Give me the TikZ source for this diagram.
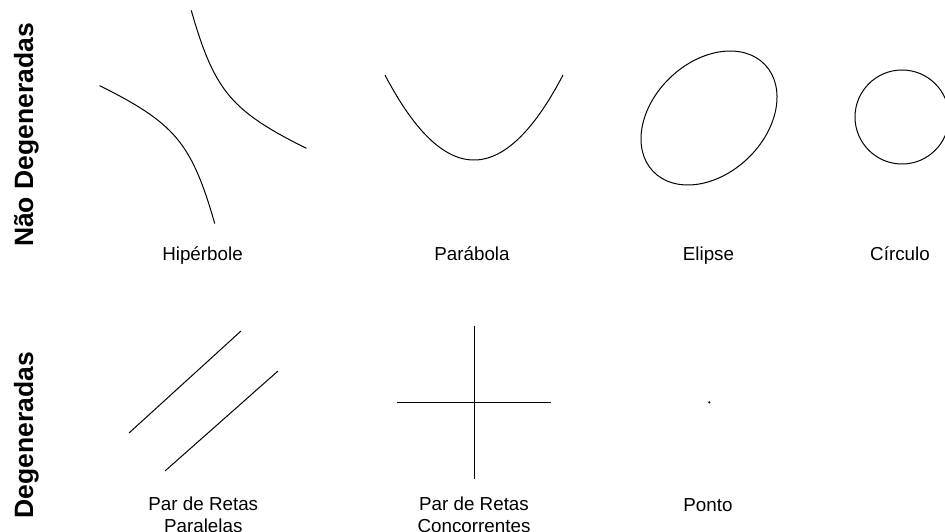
\documentclass[tikz,border=0pt]{standalone}
\usepackage{fontspec}
\setmainfont{Liberation Sans}
\begin{document}
\begin{tikzpicture}[x=1pt,y=1pt,
  curve/.style={line width=1pt, black},
  lbl/.style={font=\fontsize{18.8}{21.6}\selectfont, inner sep=0pt, align=center},
  sidelbl/.style={font=\fontsize{26.5}{30}\selectfont\bfseries, inner sep=0pt, rotate=90, anchor=base}]
\useasboundingbox (0,0) rectangle (945,531);
% side titles
\node[sidelbl] (nd) at (33,396) {Não Degeneradas};
\node[sidelbl] (dgt) at (33,96) {Degeneradas};
% hyperbola
\draw[curve] plot[domain=0.325:3.3, samples=90, variable=\t] ({203 + 32*\t - 7.2/\t}, {414 - 12.8*\t + 36/\t});
\draw[curve] plot[domain=0.325:3.3, samples=90, variable=\t] ({203 - 32*\t + 7.2/\t}, {414 + 12.8*\t - 36/\t});
% parabola
\draw[curve] plot[domain=-89:89, samples=90, variable=\x] ({474+\x}, {371 + 0.01073*\x*\x});
% ellipse
\draw[curve, rotate around={43.6:(709,413)}] (709,413) ellipse [x radius=77.3pt, y radius=56pt];
% circle
\draw[curve] (902,414) circle [radius=47pt];
% labels row 1
\node[lbl, anchor=base] (hip) at (202.5,270) {Hipérbole};
\node[lbl, anchor=base] (par) at (472,270) {Parábola};
\node[lbl, anchor=base] (eli) at (708.5,270) {Elipse};
\node[lbl, anchor=base] (cir) at (900,270) {Círculo};
% parallel lines
\coordinate (p1a) at (129,98); \coordinate (p1b) at (241,200);
\coordinate (p2a) at (165,60); \coordinate (p2b) at (278,160);
\draw[curve] (p1a) -- (p1b);
\draw[curve] (p2a) -- (p2b);
% crossing lines
\coordinate (vt) at (474.3,205); \coordinate (vb) at (474.3,52);
\coordinate (hl) at (397,128.7); \coordinate (hr) at (551,128.7);
\draw[curve] (vt) -- (vb);
\draw[curve] (hl) -- (hr);
% point
\fill (709.3,128.7) circle [radius=1.2pt];
% labels row 2
\node[lbl, anchor=north] (ppar) at (203.3,34) {Par de Retas\\Paralelas};
\node[lbl, anchor=north] (pcon) at (474,34) {Par de Retas\\Concorrentes};
\node[lbl, anchor=base] (pto) at (708,19.5) {Ponto};
\end{tikzpicture}
\end{document}
